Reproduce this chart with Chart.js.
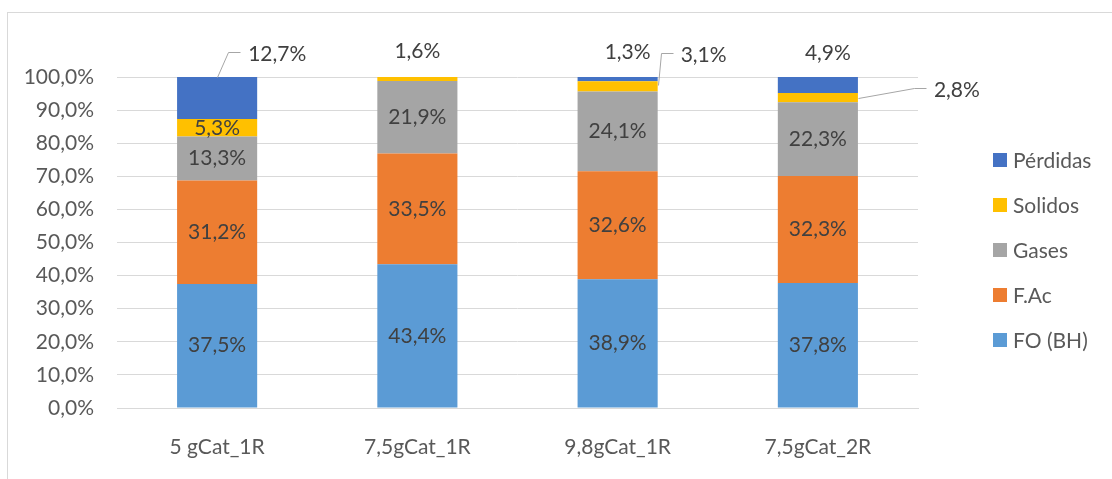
<!DOCTYPE html>
<html>
<head>
<meta charset="utf-8">
<script src="https://cdn.jsdelivr.net/npm/chart.js@4.4.1/dist/chart.umd.min.js"></script>
<style>
  html, body { margin: 0; padding: 0; background: #ffffff; }
  canvas { display: block; }
</style>
</head>
<body>
<canvas id="c" width="1112" height="479"></canvas>
<script>
// Composition of products per catalyst run (percent of total mass)
const categories = ['5 gCat_1R', '7,5gCat_1R', '9,8gCat_1R', '7,5gCat_2R'];
const foBH     = [37.5, 43.4, 38.9, 37.8];
const fAc      = [31.2, 33.5, 32.6, 32.3];
const gases    = [13.3, 21.9, 24.1, 22.3];
const solidos  = [5.3, 1.6, 3.1, 2.8];
const perdidas = [12.7, 0, 1.3, 4.9];
const yTicks   = [0, 10, 20, 30, 40, 50, 60, 70, 80, 90, 100];

const FONT = 'Lato, "Noto Sans", sans-serif';
const AXIS_TEXT = '#595959';
const LABEL_TEXT = '#404040';
const LEADER = '#a6a6a6';

const pct = v => v.toFixed(1).replace('.', ',') + '%';

// Placement of value labels that sit outside their segments.
// anchor: 'top' = top centre of the segment, 'right' = right edge at mid height.
const outsideLabels = {
  '4:0': { anchor: 'top',   text: [31, -23], align: 'left',   leader: [[0, 0], [11, -25], [23, -25]] },
  '3:1': { anchor: 'top',   text: [0, -26],  align: 'center' },
  '4:2': { anchor: 'top',   text: [10, -25], align: 'center' },
  '3:2': { anchor: 'right', text: [23, -31], align: 'left',   leader: [[0, -1], [3, -33], [15, -33]] },
  '4:3': { anchor: 'top',   text: [10, -24], align: 'center' },
  '3:3': { anchor: 'right', text: [76, -7],  align: 'left',   leader: [[0, 0], [56, -10], [68, -10]] }
};

const valueLabels = {
  id: 'valueLabels',
  afterDatasetsDraw(chart) {
    const ctx = chart.ctx;
    ctx.save();
    ctx.font = '21px ' + FONT;
    ctx.fillStyle = LABEL_TEXT;
    ctx.textBaseline = 'middle';
    chart.data.datasets.forEach((ds, di) => {
      const meta = chart.getDatasetMeta(di);
      meta.data.forEach((bar, i) => {
        const v = ds.data[i];
        if (!v) return;
        const p = bar.getProps(['x', 'y', 'base', 'width'], true);
        const top = Math.max(p.y, chart.chartArea.top);
        const mid = (top + p.base) / 2;
        const spec = outsideLabels[di + ':' + i];
        if (!spec) {
          ctx.textAlign = 'center';
          ctx.fillText(pct(v), p.x, mid);
          return;
        }
        const ax = spec.anchor === 'right' ? p.x + p.width / 2 : p.x;
        const ay = spec.anchor === 'right' ? mid : top;
        if (spec.leader) {
          ctx.beginPath();
          ctx.strokeStyle = LEADER;
          ctx.lineWidth = 1;
          spec.leader.forEach(([dx, dy], k) => {
            const px = Math.round(ax + dx) + 0.5, py = Math.round(ay + dy) + 0.5;
            if (k === 0) ctx.moveTo(px, py); else ctx.lineTo(px, py);
          });
          ctx.stroke();
        }
        ctx.textAlign = spec.align;
        ctx.fillText(pct(v), ax + spec.text[0], ay + spec.text[1]);
      });
    });
    ctx.restore();
  }
};

// Legend on the right, top series first, plus the thin frame around the chart
const sideLegend = {
  id: 'sideLegend',
  afterDraw(chart) {
    const ctx = chart.ctx;
    ctx.save();
    ctx.strokeStyle = '#d9d9d9';
    ctx.lineWidth = 1;
    ctx.strokeRect(7.5, 12.5, 1200, 600);
    ctx.font = '21px ' + FONT;
    ctx.textBaseline = 'middle';
    ctx.textAlign = 'left';
    const items = chart.data.datasets.map((d, i) => i).reverse();
    items.forEach((di, k) => {
      const ds = chart.data.datasets[di];
      const cy = 160 + k * 45;
      ctx.fillStyle = ds.backgroundColor;
      ctx.fillRect(993, cy - 7, 14, 14);
      ctx.fillStyle = AXIS_TEXT;
      ctx.fillText(ds.label, 1013, cy + 1);
    });
    ctx.restore();
  }
};

new Chart(document.getElementById('c'), {
  type: 'bar',
  data: {
    labels: categories,
    datasets: [
      { label: 'FO (BH)',  data: foBH,     backgroundColor: '#5B9BD5' },
      { label: 'F.Ac',     data: fAc,      backgroundColor: '#ED7D31' },
      { label: 'Gases',    data: gases,    backgroundColor: '#A5A5A5' },
      { label: 'Solidos',  data: solidos,  backgroundColor: '#FFC000' },
      { label: 'Pérdidas', data: perdidas, backgroundColor: '#4472C4' }
    ]
  },
  options: {
    responsive: false,
    animation: false,
    devicePixelRatio: 1,
    layout: { padding: { left: 0, top: 77, right: 194, bottom: 0 } },
    datasets: { bar: { barPercentage: 0.4, categoryPercentage: 1, borderWidth: 0 } },
    plugins: { legend: { display: false }, tooltip: { enabled: false } },
    scales: {
      x: {
        stacked: true,
        grid: { display: false },
        border: { display: true, color: '#d9d9d9', width: 1 },
        ticks: { color: AXIS_TEXT, font: { family: FONT, size: 21 }, padding: 19, maxRotation: 0 },
        afterFit(s) { s.height = 71; }
      },
      y: {
        stacked: true,
        min: 0,
        max: 100,
        grid: { color: '#d9d9d9', lineWidth: 1, drawTicks: false },
        border: { display: false },
        afterBuildTicks(s) { s.ticks = yTicks.map(v => ({ value: v })); },
        ticks: { color: AXIS_TEXT, font: { family: FONT, size: 21 }, padding: 23, callback: v => pct(v) },
        afterFit(s) { s.width = 117; }
      }
    }
  },
  plugins: [valueLabels, sideLegend]
});
</script>
</body>
</html>
